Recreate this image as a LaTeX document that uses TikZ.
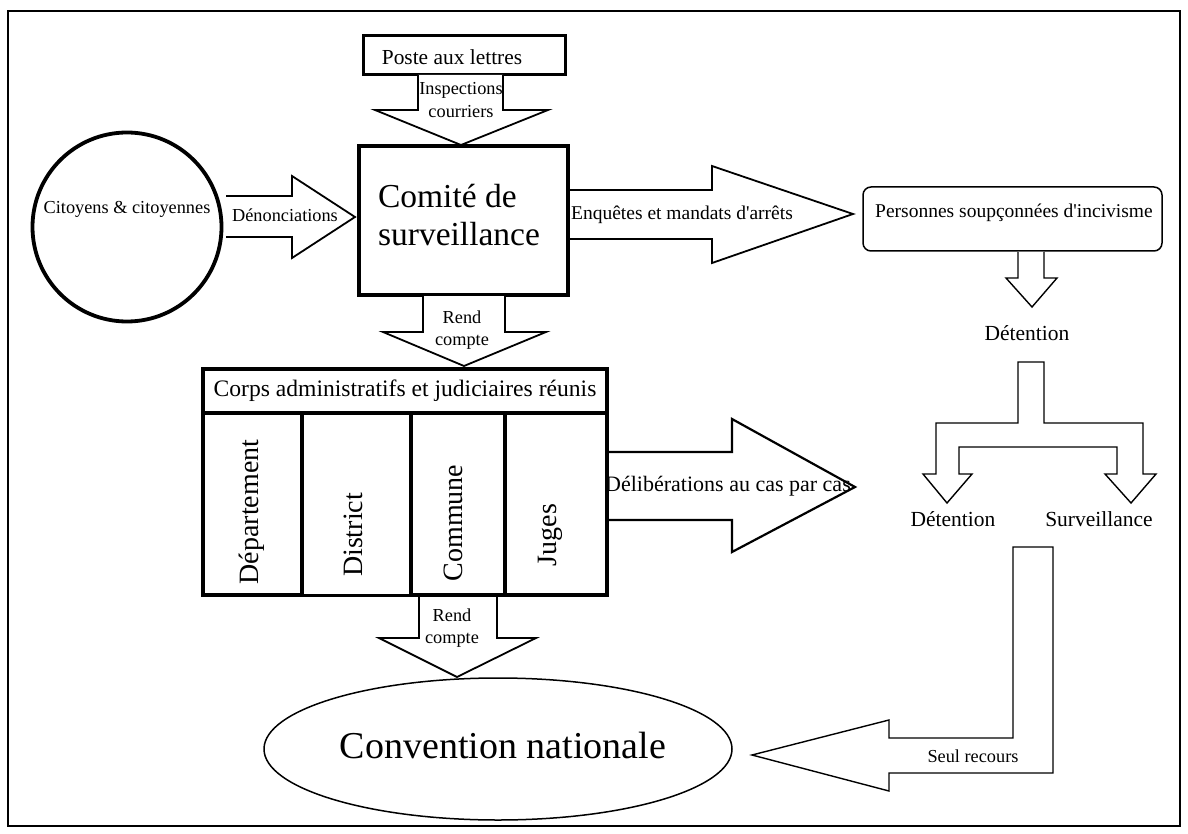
\documentclass[tikz,border=0pt]{standalone}
\usepackage{fontspec}
\setmainfont{Liberation Serif}
\usetikzlibrary{shapes.geometric}
\begin{document}
\begin{tikzpicture}[x=1pt,y=-1pt,
  thickbox/.style={draw, line width=3.5pt},
  blockarrow/.style={draw, line width=1.8pt, fill=white, line join=miter},
  thinarrow/.style={draw, line width=1.4pt, fill=white, line join=miter},
  lbl/.style={inner sep=0pt, anchor=center},
  fsmall/.style={lbl, font=\fontsize{18.3}{22.5}\selectfont, align=center},
  fmed/.style={lbl, font=\fontsize{21.5}{25}\selectfont},
  fcol/.style={lbl, rotate=90, font=\fontsize{28}{32}\selectfont}]
\useasboundingbox (0,0) rectangle (1188,834);
\draw[line width=2.5pt] (8,11) rectangle (1180,826);

% nodes (boxes)
\node[thickbox, line width=3pt, minimum width=202pt, minimum height=39pt, inner sep=0pt] (poste) at (464,55.5) {};
\node[lbl, font=\fontsize{21.4}{24}\selectfont] (postetxt) at (452,57) {Poste aux lettres};

\node[draw, circle, line width=3.8pt, minimum size=189pt, inner sep=0pt] (cit) at (127,227) {};
\node[fsmall] (cittxt) at (127,209) {Citoyens \& citoyennes};

\node[thickbox, minimum width=209pt, minimum height=149pt, inner sep=0pt] (comite) at (463.5,220.5) {};
\node[lbl, font=\fontsize{33.5}{38}\selectfont, align=left] (comitetxt) at (459,215) {Comité de\\surveillance};

\node[draw, line width=1.5pt, rounded corners=8pt, minimum width=299pt, minimum height=64pt, inner sep=0pt] (pers) at (1012.5,219) {};
\node[lbl, font=\fontsize{19.5}{23}\selectfont] (perstxt) at (1014,213) {Personnes soupçonnées d\textquotesingle incivisme};

% table
\node[thickbox, minimum width=404pt, minimum height=44pt, inner sep=0pt] (corps) at (405,391) {};
\node[lbl, font=\fontsize{23.6}{27}\selectfont] (corpstxt) at (405,391) {Corps administratifs et judiciaires réunis};
\node[thickbox, minimum width=99pt, minimum height=182pt, inner sep=0pt] (dep) at (252.5,504) {};
\node[draw, line width=3pt, minimum width=109pt, minimum height=182pt, inner sep=0pt] (dis) at (356.5,504) {};
\node[thickbox, minimum width=94pt, minimum height=182pt, inner sep=0pt] (com) at (458,504) {};
\node[thickbox, minimum width=102pt, minimum height=182pt, inner sep=0pt] (jug) at (556,504) {};
\node[fcol] (deptxt) at (252,512) {Département};
\node[fcol] (distxt) at (353,535) {District};
\node[fcol] (comtxt) at (453,523) {Commune};
\node[fcol] (jugtxt) at (550,535) {Juges};

\node[draw, ellipse, line width=1.5pt, minimum width=468pt, minimum height=142pt, inner sep=0pt] (conv) at (498,749) {};
\node[lbl, font=\fontsize{38}{42}\selectfont] (convtxt) at (503,745) {Convention nationale};

% block arrows
\path[blockarrow] (418,75) -- (418,110) -- (375,110) -- (461,145) -- (548,110) -- (503,110) -- (503,75);
\node[fsmall] (insp) at (461,100) {Inspections\\courriers};

\path[blockarrow] (226,196) -- (292,196) -- (292,176) -- (355,217) -- (292,258) -- (292,237) -- (226,237);
\node[fsmall] (denon) at (285,215) {Dénonciations};

\path[blockarrow] (570,190) -- (712,190) -- (712,166) -- (853,214) -- (712,263) -- (712,239) -- (570,239);
\node[lbl, font=\fontsize{19.5}{23}\selectfont] (enq) at (682,215) {Enquêtes et mandats d\textquotesingle arrêts};

\path[blockarrow] (423,296) -- (423,332) -- (383,332) -- (464,366) -- (546,332) -- (505,332) -- (505,296);
\node[fsmall] (rend1) at (462,330) {Rend\\compte};

\path[blockarrow, line width=2.2pt] (609,452) -- (732,452) -- (732,419) -- (855,487) -- (732,552) -- (732,520) -- (609,520);
\node[lbl, font=\fontsize{22}{25}\selectfont] (delib) at (728,486) {Délibérations au cas par cas};

\path[blockarrow] (419,597) -- (419,638) -- (379,638) -- (457,677) -- (536,638) -- (497,638) -- (497,597);
\node[fsmall] (rend2) at (452,628) {Rend\\compte};

\path[thinarrow] (1018,252) -- (1018,278) -- (1006,278) -- (1032,307) -- (1057,278) -- (1044,278) -- (1044,252);
\node[fmed] (det1) at (1027,333) {Détention};

\path[thinarrow] (1018,362) -- (1044,362) -- (1044,423) -- (1143,423) -- (1143,474) -- (1156,474) -- (1131,503) -- (1105,474) -- (1117,474) -- (1117,447) -- (959,447) -- (959,474) -- (972,474) -- (947,503) -- (923,474) -- (936,474) -- (936,423) -- (1018,423) -- cycle;
\node[fmed] (det2) at (953,519) {Détention};
\node[fmed] (surv) at (1099,519) {Surveillance};

\path[thinarrow] (1013,547) -- (1053,547) -- (1053,773) -- (889,773) -- (889,791) -- (752,755) -- (889,720) -- (889,738) -- (1013,738) -- cycle;
\node[fsmall] (seul) at (973,756) {Seul recours};
\end{tikzpicture}
\end{document}
